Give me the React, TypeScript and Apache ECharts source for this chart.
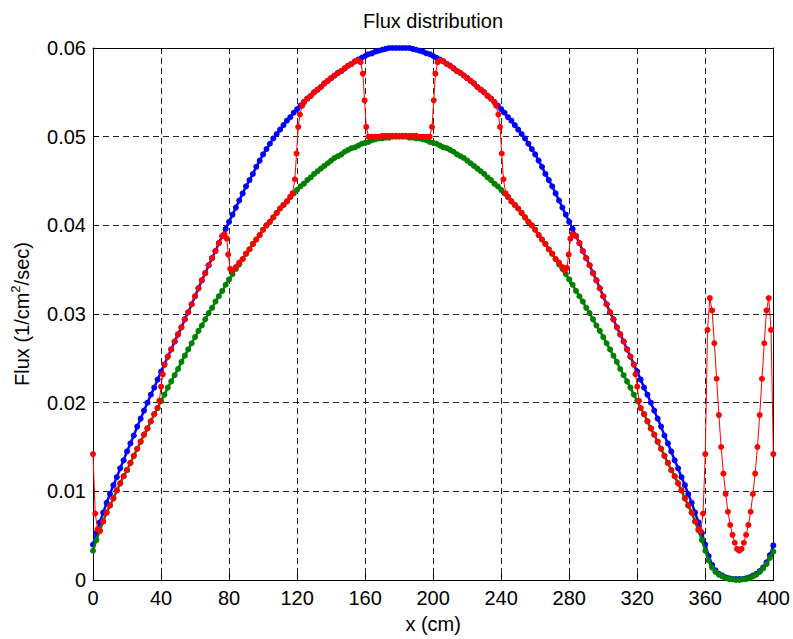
import React, { useEffect, useRef } from "react";
import * as echarts from "echarts";

// x sample positions (cm) for the blue and green series
const gridX: number[] = Array.from({ length: 201 }, (_, i) => i * 2);

// Flux values in units of 1e-4 (1/cm^2/sec)
const blueFlux = [
  40, 53, 65, 76, 87, 97, 107, 116, 126, 135,
  145, 154, 163, 173, 182, 191, 200, 209, 217, 226,
  235, 243, 252, 260, 269, 277, 285, 294, 302, 311,
  320, 329, 338, 346, 355, 363, 371, 380, 388, 396,
  404, 412, 420, 428, 436, 444, 451, 458, 466, 473,
  480, 486, 492, 498, 503, 508, 513, 518, 522, 527,
  531, 535, 539, 543, 546, 550, 553, 556, 560, 563,
  566, 569, 572, 574, 577, 580, 582, 585, 587, 589,
  591, 593, 594, 596, 597, 598, 599, 600, 600, 600,
  600, 600, 600, 600, 599, 598, 597, 596, 594, 593,
  591, 589, 587, 585, 582, 580, 577, 574, 572, 569,
  566, 563, 560, 556, 553, 550, 546, 543, 539, 535,
  531, 527, 522, 518, 513, 508, 503, 498, 492, 486,
  480, 473, 466, 458, 451, 444, 436, 428, 420, 412,
  404, 396, 388, 380, 371, 363, 355, 346, 338, 329,
  320, 311, 302, 294, 285, 277, 269, 260, 252, 243,
  235, 226, 217, 209, 200, 191, 182, 173, 163, 154,
  145, 135, 126, 116, 107, 97, 87, 76, 65, 53,
  40, 27, 17, 11, 7, 5, 3, 2, 1, 1,
  1, 1, 2, 3, 5, 7, 10, 14, 20, 28,
  39,
];

const greenFlux = [
  33, 45, 56, 66, 76, 84, 92, 101, 109, 117,
  124, 132, 140, 148, 156, 164, 171, 179, 187, 194,
  202, 209, 217, 224, 231, 238, 246, 253, 260, 267,
  274, 281, 287, 294, 301, 307, 314, 320, 326, 333,
  339, 345, 351, 356, 362, 368, 373, 379, 384, 389,
  395, 400, 404, 409, 414, 419, 423, 427, 432, 436,
  440, 444, 447, 451, 454, 458, 461, 464, 467, 470,
  473, 476, 478, 480, 483, 485, 487, 488, 490, 492,
  493, 494, 496, 497, 498, 498, 499, 499, 500, 500,
  500, 500, 500, 499, 499, 498, 498, 497, 496, 494,
  493, 492, 490, 488, 487, 485, 483, 480, 478, 476,
  473, 470, 467, 464, 461, 458, 454, 451, 447, 444,
  440, 436, 432, 427, 423, 419, 414, 409, 404, 400,
  395, 389, 384, 379, 373, 368, 362, 356, 351, 345,
  339, 333, 326, 320, 314, 307, 301, 294, 287, 281,
  274, 267, 260, 253, 246, 238, 231, 224, 217, 209,
  202, 194, 187, 179, 171, 164, 156, 148, 140, 132,
  124, 117, 109, 101, 92, 84, 76, 66, 56, 45,
  33, 22, 14, 9, 6, 4, 2, 1, 1, 0,
  0, 1, 1, 2, 4, 6, 9, 13, 18, 25,
  32,
];

const redX = [
  0, 1.33, 2.67, 4, 6, 8, 10, 12, 14, 16, 18, 20, 22, 24, 26, 28, 30, 32, 34, 36, 38,
  39, 40, 41, 42,
  44, 46, 48, 50, 52, 54, 56, 58, 60, 62, 64, 66, 68, 70, 72, 74, 76,
  77.33, 78.67, 79.5, 80.67, 82, 84, 86,
  88, 90, 92, 94, 96, 98, 100, 102, 104, 106, 108, 110, 112, 114, 116,
  117.33, 118.67, 119.67, 120.67, 121.67, 123,
  124, 126, 128, 130, 132, 134, 136, 138, 140, 142, 144, 146, 148, 150, 152, 154, 156,
  157.33, 158.67, 159.67, 160.67, 162,
  164, 166, 168, 170, 172, 174, 176, 178, 180, 182, 184, 186, 188, 190, 192, 194, 196, 198,
  199.33, 200.33, 201.33, 202.67,
  204, 206, 208, 210, 212, 214, 216, 218, 220, 222, 224, 226, 228, 230, 232, 234, 236,
  237, 238.33, 239.33, 240.33, 241.33, 242.67,
  244, 246, 248, 250, 252, 254, 256, 258, 260, 262, 264, 266, 268, 270, 272,
  274, 276, 277.33, 278.67, 279.67, 280.67, 282,
  284, 286, 288, 290, 292, 294, 296, 298, 300, 302, 304, 306, 308, 310, 312, 314, 316,
  318, 319, 320, 321, 322,
  324, 326, 328, 330, 332, 334, 336, 338, 340, 342, 344, 346, 348, 350, 352, 354, 356,
  357.33, 358.67, 360, 361.33, 362.67, 364, 365.33, 366.67, 368, 369.33, 370.67, 372,
  373.33, 374.67, 376, 377.33, 378.67, 380, 381.33, 382.67, 384, 385.33, 386.67, 388,
  389.33, 390.67, 392, 393.33, 394.67, 396, 397.33, 398.67, 400,
];

const redFlux = [
  142, 75, 57, 55, 66, 76, 84, 92, 101, 109, 117, 124, 132, 140, 148, 156, 164, 171, 179, 187, 194,
  202, 218, 232, 243,
  252, 260, 269, 277, 285, 294, 302, 311, 320, 329, 338, 346, 355, 363, 371, 380, 388,
  390, 385, 367, 351, 349, 353, 358,
  362, 368, 373, 379, 384, 389, 395, 400, 404, 409, 414, 419, 423, 427, 432,
  436, 452, 481, 511, 525, 535,
  539, 543, 546, 550, 553, 556, 560, 563, 566, 569, 572, 574, 577, 580, 582, 585, 586,
  584, 571, 541, 511, 500,
  500, 500, 500, 501, 501, 501, 501, 501, 501, 501, 501, 501, 501, 501, 500, 500, 500, 500,
  511, 541, 571, 584,
  586, 585, 582, 580, 577, 574, 572, 569, 566, 563, 560, 556, 553, 550, 546, 543, 539,
  535, 525, 511, 481, 452, 436,
  432, 427, 423, 419, 414, 409, 404, 400, 395, 389, 384, 379, 373, 368, 362,
  358, 353, 349, 352, 367, 385, 390,
  388, 380, 371, 363, 355, 346, 338, 329, 320, 311, 302, 294, 285, 277, 269, 260, 252,
  243, 232, 218, 202, 194,
  187, 179, 171, 164, 156, 148, 140, 132, 124, 117, 109, 101, 92, 84, 76, 66, 57,
  55, 75, 142, 282, 318, 304, 267, 227, 186, 150, 120, 97,
  77, 62, 51, 42, 35, 33, 35, 42, 51, 62, 77, 97,
  120, 150, 186, 227, 267, 304, 318, 282, 142,
];

const xTickLabels = ["0", "40", "80", "120", "160", "200", "240", "280", "320", "360", "400"];
const yTickLabels = ["0", "0.01", "0.02", "0.03", "0.04", "0.05", "0.06"];

const FONT = '"Liberation Sans", Arial, Helvetica, sans-serif';

export default function App() {
  const ref = useRef<HTMLDivElement>(null);

  useEffect(() => {
    if (!ref.current) return;
    const chart = echarts.init(ref.current, undefined, { renderer: "svg" });

    const toPairs = (xs: number[], ys: number[]) => xs.map((x, i) => [x, ys[i] / 10000]);

    const axisLineStyle = { color: "#000", width: 1 };
    const gridLine = { show: true, lineStyle: { color: "#222", width: 1, type: [6, 4] as any } };

    const option: any = {
      animation: false,
      backgroundColor: "#fff",
      textStyle: { fontFamily: FONT },
      graphic: [
        {
          type: "text",
          x: 433,
          y: 11,
          style: {
            text: "Flux distribution",
            fill: "#000",
            font: `20px ${FONT}`,
            align: "center",
            verticalAlign: "top",
          },
        },
      ],
      grid: { left: 93, top: 48, width: 681, height: 534, containLabel: false },
      xAxis: [
        {
          type: "value",
          min: 0,
          max: 400,
          interval: 40,
          position: "bottom",
          axisLine: { show: true, onZero: false, lineStyle: axisLineStyle },
          axisTick: { show: true, inside: true, length: 6, lineStyle: axisLineStyle },
          axisLabel: {
            color: "#000",
            fontSize: 20,
            fontFamily: FONT,
            margin: 8,
            formatter: (v: number) => xTickLabels[Math.round(v / 40)] ?? String(v),
          },
          splitLine: gridLine,
          name: "x (cm)",
          nameLocation: "middle",
          nameGap: 34,
          nameTextStyle: { color: "#000", fontSize: 20, fontFamily: FONT },
        },
        {
          type: "value",
          min: 0,
          max: 400,
          interval: 40,
          position: "top",
          axisLine: { show: true, onZero: false, lineStyle: axisLineStyle },
          axisTick: { show: true, inside: true, length: 6, lineStyle: axisLineStyle },
          axisLabel: { show: false },
          splitLine: { show: false },
        },
      ],
      yAxis: [
        {
          type: "value",
          min: 0,
          max: 0.06,
          interval: 0.01,
          position: "left",
          axisLine: { show: true, onZero: false, lineStyle: axisLineStyle },
          axisTick: { show: true, inside: true, length: 6, lineStyle: axisLineStyle },
          axisLabel: {
            color: "#000",
            fontSize: 20,
            fontFamily: FONT,
            margin: 7,
            formatter: (v: number) => yTickLabels[Math.round(v / 0.01)] ?? String(v),
          },
          splitLine: gridLine,
          name: "Flux (1/cm{sup|2}/sec)",
          nameLocation: "middle",
          nameGap: 58,
          nameRotate: 90,
          nameTextStyle: {
            color: "#000",
            fontSize: 20,
            fontFamily: FONT,
            lineHeight: 26,
            rich: {
              sup: { fontSize: 13, lineHeight: 13, verticalAlign: "top", color: "#000", fontFamily: FONT },
            },
          },
        },
        {
          type: "value",
          min: 0,
          max: 0.06,
          interval: 0.01,
          position: "right",
          axisLine: { show: true, onZero: false, lineStyle: axisLineStyle },
          axisTick: { show: true, inside: true, length: 6, lineStyle: axisLineStyle },
          axisLabel: { show: false },
          splitLine: { show: false },
        },
      ],
      series: [
        {
          name: "fast",
          type: "line",
          xAxisIndex: 0,
          yAxisIndex: 0,
          data: toPairs(gridX, blueFlux),
          symbol: "circle",
          symbolSize: 6,
          showSymbol: true,
          showAllSymbol: true,
          clip: false,
          lineStyle: { color: "#0000ff", width: 2.5 },
          itemStyle: { color: "#0000ff" },
          z: 3,
        },
        {
          name: "thermal",
          type: "line",
          xAxisIndex: 0,
          yAxisIndex: 0,
          data: toPairs(gridX, greenFlux),
          symbol: "circle",
          symbolSize: 6,
          showSymbol: true,
          showAllSymbol: true,
          clip: false,
          lineStyle: { color: "#008000", width: 2.5 },
          itemStyle: { color: "#008000" },
          z: 4,
        },
        {
          name: "mixed",
          type: "line",
          xAxisIndex: 0,
          yAxisIndex: 0,
          data: toPairs(redX, redFlux),
          symbol: "circle",
          symbolSize: 6,
          showSymbol: true,
          showAllSymbol: true,
          clip: false,
          lineStyle: { color: "#ff0000", width: 1 },
          itemStyle: { color: "#ff0000" },
          z: 5,
        },
      ],
    };

    chart.setOption(option);
    return () => chart.dispose();
  }, []);

  return (
    <div
      ref={ref}
      style={{ position: "absolute", left: 0, top: 0, width: 793, height: 639, background: "#fff" }}
    />
  );
}
